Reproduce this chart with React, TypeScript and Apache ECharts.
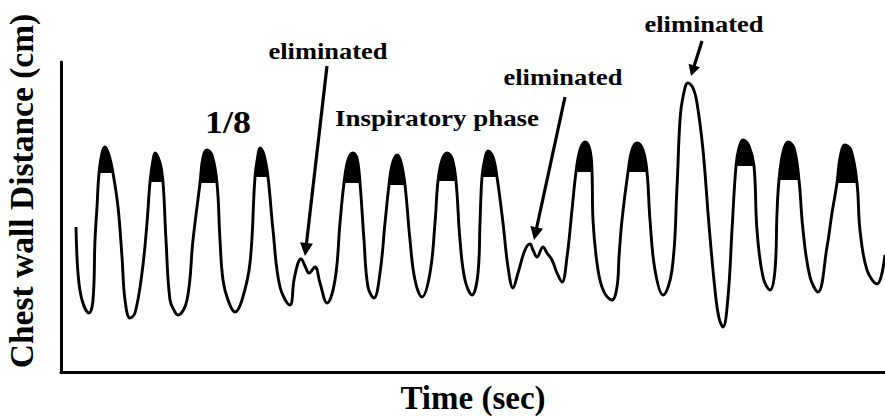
import React, { useEffect, useRef } from "react";
import * as echarts from "echarts";

// Time (arbitrary units along the trace) and chest wall distance (arbitrary units)
const time: number[] = [
  15, 17, 21, 28, 32, 34, 36, 38, 41, 44, 48, 52, 57, 61, 64, 69,
  74, 81, 86, 89, 92, 94, 99, 102, 105, 109, 114, 117,
  126, 132, 139, 142, 146, 151, 156, 159, 162, 167, 174,
  181, 189, 194, 197, 199, 203, 207, 212, 219, 229,
  233, 237, 240, 244, 248, 254, 259, 266,
  274, 279, 283, 287, 292, 296, 299, 303, 307, 313,
  319, 324, 328, 331, 336, 340, 344, 349, 354, 361,
  369, 374, 377, 381, 386, 391, 395, 399, 404, 411,
  417, 419, 421, 424, 427, 432, 436, 442, 447, 452,
  457, 464, 469, 472, 476, 482, 486, 491, 496, 501,
  506, 511, 515, 519, 524, 529, 531, 532, 537, 543, 551,
  556, 558, 561, 567, 571, 576, 582, 586, 589, 594, 602,
  611, 616, 619, 622, 627, 632, 636, 642, 648, 654, 658, 662,
  667, 671, 675, 678, 682, 688, 693, 696, 702, 709,
  714, 716, 718, 722, 727, 733, 738, 742, 749, 757,
  766, 771, 776, 779, 784, 790, 796, 799, 806, 816, 824,
];
const distance: number[] = [
  145, 99, 72, 59, 72, 132, 165, 199, 219, 225, 217, 199, 165, 115, 72, 54,
  59, 99, 149, 190, 212, 219, 209, 190, 132, 72, 60, 57,
  72, 132, 189, 215, 222, 217, 189, 132, 92, 72, 60,
  72, 109, 195, 217, 224, 217, 195, 142, 85, 67,
  92, 109, 113, 106, 99, 105, 89, 69,
  92, 149, 189, 212, 219, 214, 189, 132, 85, 74,
  99, 149, 187, 207, 217, 210, 187, 132, 92, 75,
  99, 149, 191, 212, 219, 214, 191, 132, 92, 77,
  99, 149, 195, 214, 221, 215, 195, 149, 105, 84,
  99, 122, 128, 122, 115, 125, 119, 112, 99, 90,
  115, 162, 200, 222, 230, 222, 200, 152, 102, 80, 72,
  85, 115, 152, 200, 222, 229, 222, 200, 152, 102, 77,
  102, 185, 252, 275, 289, 284, 269, 222, 147, 82, 54, 45,
  75, 142, 206, 224, 232, 226, 206, 142, 95, 82,
  102, 159, 192, 220, 230, 224, 192, 142, 95, 80,
  125, 159, 189, 214, 227, 222, 189, 142, 102, 88, 117,
];

// Blackened inspiratory tops: level of the cut and time span of each
const fillLevel: number[] = [199, 190, 189, 195, 189, 187, 191, 195, 200, 200, 206, 192, 189];
const fillStart: number[] = [38, 89, 139, 194, 283, 328, 377, 421, 515, 567, 675, 718, 776];
const fillEnd: number[] = [52, 102, 156, 207, 299, 344, 395, 436, 531, 586, 693, 738, 796];

const SERIF = "Liberation Serif, Times New Roman, serif";
const SMOOTH = 0.4;

function arrow(x1: number, y1: number, x2: number, y2: number, len = 13, half = 6.5) {
  const dx = x2 - x1;
  const dy = y2 - y1;
  const d = Math.sqrt(dx * dx + dy * dy);
  const ux = dx / d;
  const uy = dy / d;
  const bx = x2 - ux * len;
  const by = y2 - uy * len;
  const px = -uy;
  const py = ux;
  return [
    {
      type: "line",
      shape: { x1, y1, x2: bx + ux * 2, y2: by + uy * 2 },
      style: { stroke: "#000", lineWidth: 3.2 },
    },
    {
      type: "polygon",
      shape: {
        points: [
          [x2, y2],
          [bx + px * half, by + py * half],
          [bx - px * half, by - py * half],
        ],
      },
      style: { fill: "#000" },
    },
  ];
}

function label(text: string, x: number, y: number, size: number, sx: number) {
  return {
    type: "text",
    x,
    y,
    scaleX: sx,
    style: {
      text,
      x: 0,
      y: 0,
      align: "center",
      verticalAlign: "middle",
      fontFamily: SERIF,
      fontWeight: "bold",
      fontSize: size,
      fill: "#000",
    },
  };
}

export default function App() {
  const ref = useRef<HTMLDivElement>(null);
  useEffect(() => {
    if (!ref.current) return;
    const chart = echarts.init(ref.current, null, { renderer: "svg" });
    const main = time.map((t, i) => [t, distance[i]]);
    const fills = fillLevel.map((lvl, k) => ({
      type: "line",
      data: main.filter((p) => p[0] >= fillStart[k] && p[0] <= fillEnd[k]),
      smooth: SMOOTH,
      showSymbol: false,
      symbol: "none",
      lineStyle: { width: 0, color: "#000" },
      areaStyle: { color: "#000", opacity: 1, origin: lvl },
      z: 1,
      silent: true,
    }));
    chart.setOption({
      animation: false,
      backgroundColor: "#fff",
      grid: { left: 61, right: 0, top: 62, bottom: 44, containLabel: false, outerBoundsMode: "none" },
      xAxis: {
        type: "value",
        min: 0,
        max: 824,
        axisLine: { show: true, lineStyle: { color: "#000", width: 3 } },
        axisTick: { show: false },
        axisLabel: { show: false },
        splitLine: { show: false },
        name: "Time (sec)",
        nameLocation: "middle",
        nameGap: 9,
        nameTextStyle: {
          fontFamily: SERIF,
          fontWeight: "bold",
          fontSize: 33,
          color: "#000",
        },
      },
      yAxis: {
        type: "value",
        min: 0,
        max: 310,
        axisLine: { show: true, lineStyle: { color: "#000", width: 3 } },
        axisTick: { show: false },
        axisLabel: { show: false },
        splitLine: { show: false },
        name: "Chest wall Distance (cm)",
        nameLocation: "middle",
        nameGap: 23,
        nameTextStyle: {
          fontFamily: SERIF,
          fontWeight: "bold",
          fontSize: 33.5,
          color: "#000",
          padding: [0, 0, 0, 52],
        },
      },
      series: [
        ...fills,
        {
          type: "line",
          data: main,
          smooth: SMOOTH,
          showSymbol: false,
          symbol: "none",
          lineStyle: { width: 2.9, color: "#000" },
          z: 3,
          silent: true,
        },
      ],
      graphic: [
        label("1/8", 228, 122, 32, 1.12),
        label("Inspiratory phase", 437, 118, 23, 1.17),
        label("eliminated", 328, 51, 23, 1.15),
        label("eliminated", 563, 77, 23, 1.15),
        label("eliminated", 704, 24, 23, 1.15),
        ...arrow(327, 66, 305, 256),
        ...arrow(565, 97, 534, 240),
        ...arrow(702, 41, 691, 76, 11, 6),
      ],
    });
    return () => chart.dispose();
  }, []);
  return (
    <div
      ref={ref}
      style={{ position: "fixed", left: 0, top: 0, width: 885, height: 416, background: "#fff" }}
    />
  );
}
